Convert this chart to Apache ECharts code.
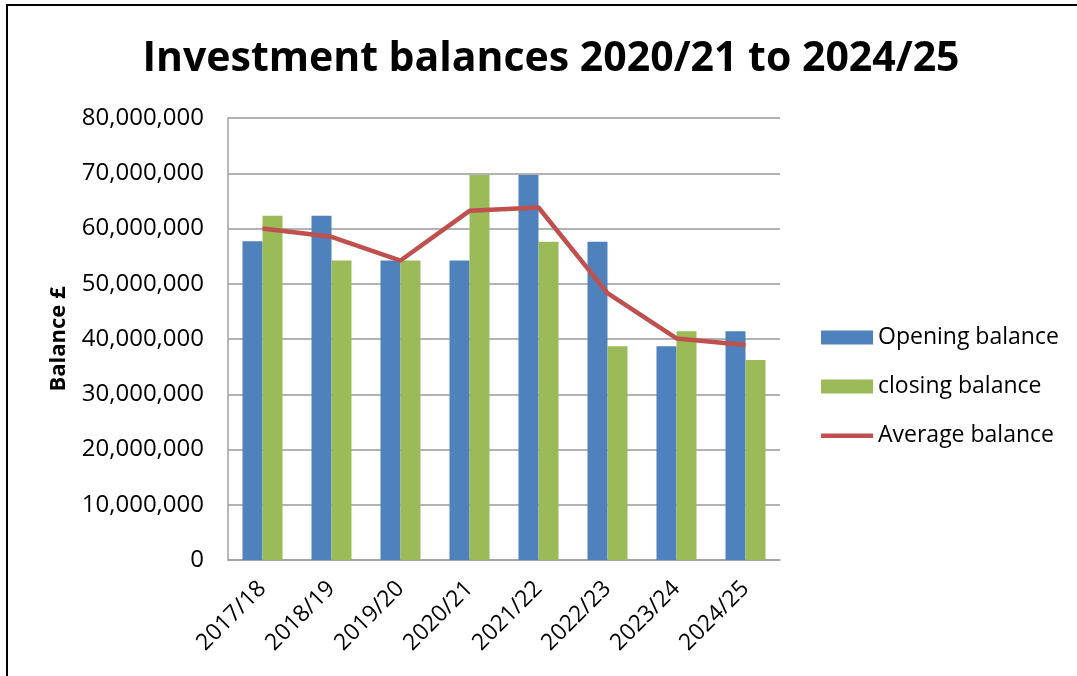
<!DOCTYPE html>
<html>
<head>
<meta charset="utf-8">
<script src="https://cdn.jsdelivr.net/npm/echarts@6/dist/echarts.min.js"></script>
<style>
html,body{margin:0;padding:0;background:#fff;}
#chart{width:1077px;height:676px;}
</style>
</head>
<body>
<div id="chart"></div>
<script>
const categories = ['2017/18','2018/19','2019/20','2020/21','2021/22','2022/23','2023/24','2024/25'];
const openingBalance = [57700000, 62300000, 54200000, 54200000, 69700000, 57600000, 38700000, 41400000];
const closingBalance = [62300000, 54200000, 54200000, 69700000, 57600000, 38700000, 41400000, 36200000];
const averageBalance = [60000000, 58500000, 54200000, 63200000, 63800000, 48300000, 40100000, 38900000];
const yTicks = [0, 10000000, 20000000, 30000000, 40000000, 50000000, 60000000, 70000000, 80000000];

const FONT = 'Open Sans';
const chart = echarts.init(document.getElementById('chart'), null, {renderer:'canvas'});
chart.setOption({
  backgroundColor: '#fff',
  animation: false,
  graphic: [{
    type: 'rect', silent: true, z: -1,
    shape: {x: 7, y: 5, width: 1300, height: 900},
    style: {fill: 'none', stroke: '#000', lineWidth: 2}
  }],
  title: {
    text: 'Investment balances 2020/21 to 2024/25',
    left: 546, textAlign: 'center', top: 34,
    textStyle: {fontFamily: FONT, fontWeight: 'bold', fontSize: 41, color: '#000'}
  },
  legend: {
    orient: 'vertical', left: 816, top: 321,
    itemWidth: 52, itemHeight: 14, itemGap: 26,
    textStyle: {fontFamily: FONT, fontSize: 23, color: '#000'},
    data: [
      {name: 'Opening balance', icon: 'rect'},
      {name: 'closing balance', icon: 'rect'},
      {name: 'Average balance', icon: 'path://M0,0 M0,5 L52,5 L52,9.5 L0,9.5 Z M52,14'}
    ]
  },
  grid: {left: 228, top: 118, right: 297, bottom: 116, containLabel: false},
  xAxis: {
    type: 'category', data: categories,
    axisLine: {show: true, lineStyle: {color: '#a0a0a0', width: 1.5}},
    axisTick: {show: false},
    axisLabel: {rotate: 45, fontFamily: FONT, fontSize: 23, color: '#000', margin: 25, interval: 0}
  },
  yAxis: {
    type: 'value', min: 0, max: 80000000, interval: 10000000,
    name: 'Balance £', nameLocation: 'middle', nameRotate: 90, nameGap: 158,
    nameTextStyle: {fontFamily: FONT, fontWeight: 'bold', fontSize: 22, color: '#000'},
    axisLine: {show: true, lineStyle: {color: '#a0a0a0', width: 1.5}},
    axisTick: {show: false},
    splitLine: {show: true, lineStyle: {color: '#9a9a9a', width: 1.6}},
    axisLabel: {
      fontFamily: FONT, fontSize: 24, color: '#000', margin: 24,
      formatter: v => yTicks.includes(v) ? String(v).replace(/\B(?=(\d{3})+(?!\d))/g, ',') : ''
    }
  },
  series: [
    {name: 'Opening balance', type: 'bar', data: openingBalance, barGap: '0%', barCategoryGap: '42%',
     itemStyle: {color: '#4f81bd'}},
    {name: 'closing balance', type: 'bar', data: closingBalance, barGap: '0%', barCategoryGap: '42%',
     itemStyle: {color: '#9bbb59'}},
    {name: 'Average balance', type: 'line', data: averageBalance, symbol: 'none', z: 5,
     lineStyle: {color: '#c0504d', width: 4.5}, itemStyle: {color: '#c0504d'}}
  ]
});
</script>
</body>
</html>
